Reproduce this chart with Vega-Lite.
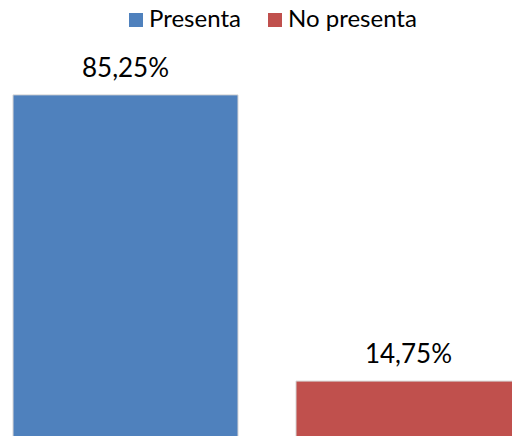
{
  "$schema": "https://vega.github.io/schema/vega-lite/v6.json",
  "width": 512,
  "height": 401,
  "autosize": {"type": "none"},
  "padding": {"top": 35, "left": 0, "right": 0, "bottom": 0},
  "background": "white",
  "config": {"view": {"stroke": null}},
  "data": {
    "values": [
      {"estado": "Presenta", "porcentaje": 85.25, "etiqueta": "85,25%"},
      {"estado": "No presenta", "porcentaje": 14.75, "etiqueta": "14,75%"}
    ]
  },
  "encoding": {
    "x": {
      "field": "estado",
      "type": "nominal",
      "sort": null,
      "axis": null,
      "scale": {"range": [0, 534], "paddingInner": 0.205, "paddingOuter": 0.046}
    },
    "y": {
      "field": "porcentaje",
      "type": "quantitative",
      "axis": null,
      "scale": {"domain": [0, 100], "range": [406, 0]}
    }
  },
  "layer": [
    {
      "mark": {"type": "bar", "stroke": "#d4d4d4", "strokeWidth": 1},
      "encoding": {
        "color": {
          "field": "estado",
          "type": "nominal",
          "sort": null,
          "scale": {"domain": ["Presenta", "No presenta"], "range": ["#4F81BD", "#C0504D"]},
          "legend": {
            "title": null,
            "orient": "none",
            "direction": "horizontal",
            "legendX": 124,
            "legendY": -27,
            "padding": 0,
            "symbolType": "square",
            "symbolSize": 196,
            "symbolStrokeWidth": 0,
            "labelFont": "Lato",
            "labelFontSize": 24,
            "labelColor": "#000000",
            "labelOffset": 1,
            "columnPadding": 22
          }
        }
      }
    },
    {
      "mark": {
        "type": "text",
        "font": "Lato",
        "fontSize": 26,
        "baseline": "alphabetic",
        "dy": -18,
        "color": "#000000"
      },
      "encoding": {"text": {"field": "etiqueta", "type": "nominal"}}
    }
  ]
}
